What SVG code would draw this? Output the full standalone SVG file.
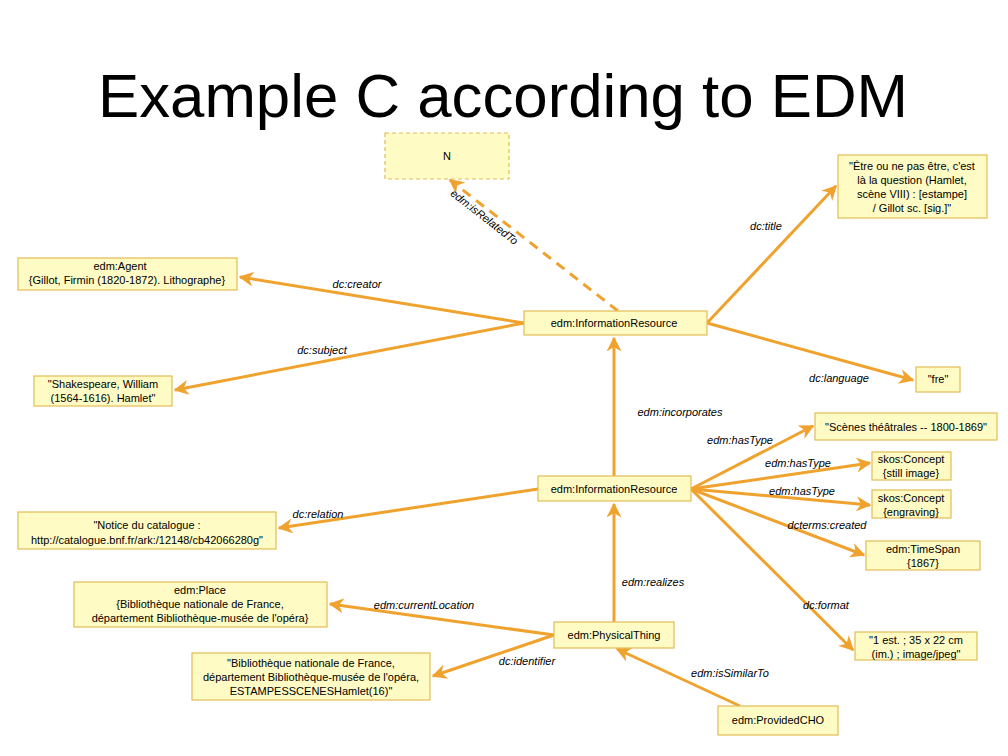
<svg xmlns="http://www.w3.org/2000/svg" width="1008" height="756" viewBox="0 0 1008 756">
<style>
.n{fill:#FFFBC4;stroke:#E2BC58;stroke-width:1.2}
.t{font-family:"Liberation Sans",Arial,sans-serif;font-size:11px;fill:#000;text-anchor:middle}
.l{font-family:"Liberation Sans",Arial,sans-serif;font-size:11px;font-style:italic;fill:#000;text-anchor:middle}
.e{stroke:#F0A22E;stroke-width:3;fill:none;marker-end:url(#a)}
</style>
<defs><marker id="a" viewBox="0 0 10 10" refX="9" refY="5" markerWidth="5" markerHeight="5" orient="auto" markerUnits="strokeWidth"><path d="M0,0L10,5L0,10L3,5z" fill="#F0A22E"/></marker></defs>
<rect width="1008" height="756" fill="#fff"/>
<text x="503" y="117" font-family="Liberation Sans,Arial,sans-serif" font-size="61" text-anchor="middle" textLength="810" lengthAdjust="spacingAndGlyphs">Example C according to EDM</text>
<g id="edges">
<path class="e" d="M618,311L450,180" stroke-dasharray="10,7"/>
<path class="e" d="M707,323L836,186"/>
<path class="e" d="M524,323L240,277"/>
<path class="e" d="M524,323L175,390"/>
<path class="e" d="M707,323L913,380"/>
<path class="e" d="M614,476L614,338"/>
<path class="e" d="M691,489L813,426"/>
<path class="e" d="M691,489L870,463"/>
<path class="e" d="M691,489L870,505"/>
<path class="e" d="M691,489L864,555"/>
<path class="e" d="M691,489L853,650"/>
<path class="e" d="M538,489L279,528"/>
<path class="e" d="M614,622L614,504"/>
<path class="e" d="M554,635L330,604"/>
<path class="e" d="M554,635L433,676"/>
<path class="e" d="M740,706L617,649"/>
<text class="l" transform="translate(482,220) rotate(38)">edm:isRelatedTo</text>
<text class="l" x="766" y="230">dc:title</text>
<text class="l" x="357" y="288">dc:creator</text>
<text class="l" x="322" y="354">dc:subject</text>
<text class="l" x="839" y="382">dc:language</text>
<text class="l" x="680" y="416">edm:incorporates</text>
<text class="l" x="740" y="444">edm:hasType</text>
<text class="l" x="798" y="467">edm:hasType</text>
<text class="l" x="802" y="495">edm:hasType</text>
<text class="l" x="827" y="529">dcterms:created</text>
<text class="l" x="826" y="609">dc:format</text>
<text class="l" x="318" y="518">dc:relation</text>
<text class="l" x="653" y="586">edm:realizes</text>
<text class="l" x="424" y="609">edm:currentLocation</text>
<text class="l" x="527" y="665">dc:identifier</text>
<text class="l" x="730" y="677">edm:isSimilarTo</text>
</g>
<g id="nN"><rect class="n" x="385" y="133" width="124" height="46" stroke-dasharray="4,3"/><text class="t" x="447" y="160">N</text></g>
<g id="nTitle"><rect class="n" x="838" y="155" width="149" height="63"/><text class="t" x="912" y="170">"Être ou ne pas être, c'est<tspan x="912" dy="14">là la question (Hamlet,</tspan><tspan x="912" dy="14">scène VIII) : [estampe]</tspan><tspan x="912" dy="14">/ Gillot sc. [sig.]"</tspan></text></g>
<g id="nAgent"><rect class="n" x="18" y="258" width="219" height="32"/><text class="t" x="120" y="270">edm:Agent<tspan x="127" dy="14">{Gillot, Firmin (1820-1872). Lithographe}</tspan></text></g>
<g id="nIR1"><rect class="n" x="524" y="311" width="183" height="24"/><text class="t" x="614" y="327">edm:InformationResource</text></g>
<g id="nFre"><rect class="n" x="916" y="367" width="44" height="25"/><text class="t" x="938" y="383">"fre"</text></g>
<g id="nShake"><rect class="n" x="34" y="376" width="138" height="30"/><text class="t" x="103" y="388">"Shakespeare, William<tspan x="103" dy="14">(1564-1616). Hamlet"</tspan></text></g>
<g id="nScenes"><rect class="n" x="815" y="413" width="182" height="27"/><text class="t" x="906" y="431">"Scènes théâtrales -- 1800-1869"</text></g>
<g id="nStill"><rect class="n" x="872" y="452" width="79" height="28"/><text class="t" x="911" y="463">skos:Concept<tspan x="911" dy="14">{still image}</tspan></text></g>
<g id="nEngr"><rect class="n" x="872" y="490" width="79" height="28"/><text class="t" x="911" y="502">skos:Concept<tspan x="911" dy="14">{engraving}</tspan></text></g>
<g id="nIR2"><rect class="n" x="538" y="476" width="153" height="25"/><text class="t" x="614" y="493">edm:InformationResource</text></g>
<g id="nNotice"><rect class="n" x="18" y="512" width="258" height="37"/><text class="t" x="147" y="529">"Notice du catalogue :<tspan x="147" dy="15">http://catalogue.bnf.fr/ark:/12148/cb42066280g"</tspan></text></g>
<g id="nTime"><rect class="n" x="866" y="541" width="114" height="29"/><text class="t" x="923" y="553">edm:TimeSpan<tspan x="923" dy="14">{1867}</tspan></text></g>
<g id="nPlace"><rect class="n" x="74" y="582" width="253" height="45"/><text class="t" x="200" y="594">edm:Place<tspan x="200" dy="14">{Bibliothèque nationale de France,</tspan><tspan x="200" dy="14">département Bibliothèque-musée de l'opéra}</tspan></text></g>
<g id="nPT"><rect class="n" x="554" y="622" width="120" height="26"/><text class="t" x="614" y="639">edm:PhysicalThing</text></g>
<g id="nFmt"><rect class="n" x="855" y="632" width="122" height="28"/><text class="t" x="916" y="644">"1 est. ; 35 x 22 cm<tspan x="916" dy="14">(im.) ; image/jpeg"</tspan></text></g>
<g id="nId"><rect class="n" x="192" y="653" width="238" height="47"/><text class="t" x="311" y="667">"Bibliothèque nationale de France,<tspan x="311" dy="14">département Bibliothèque-musée de l'opéra,</tspan><tspan x="311" dy="14">ESTAMPESSCENESHamlet(16)"</tspan></text></g>
<g id="nCHO"><rect class="n" x="718" y="706" width="120" height="29"/><text class="t" x="778" y="724">edm:ProvidedCHO</text></g>
</svg>
